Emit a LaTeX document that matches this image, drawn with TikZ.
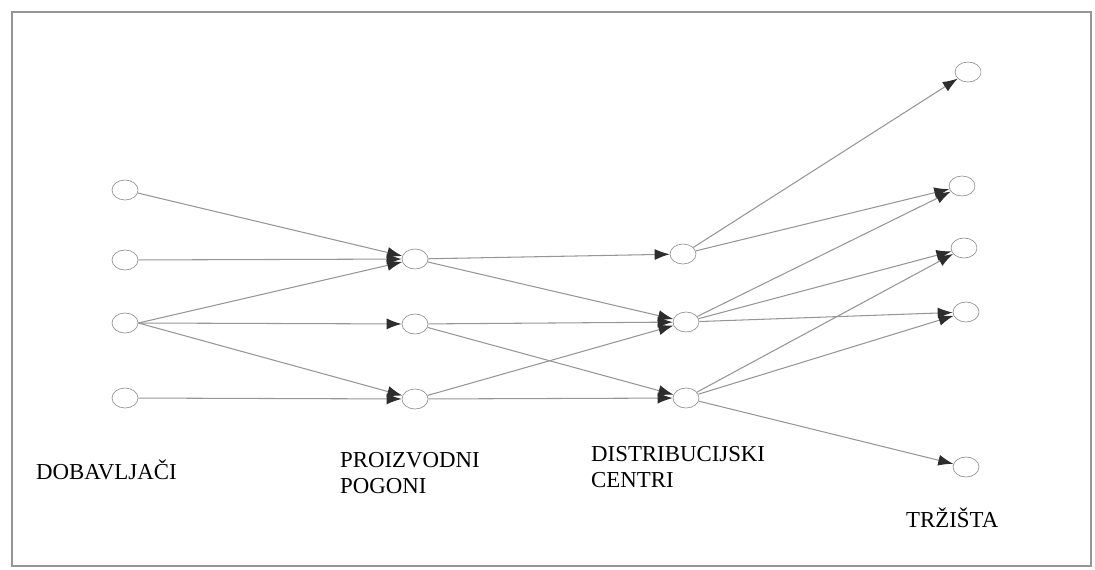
\documentclass[tikz,border=0pt]{standalone}
\usepackage{fontspec}
\setmainfont{Liberation Serif}
\usetikzlibrary{arrows.meta}
\usetikzlibrary{shapes.geometric}
\definecolor{linegray}{RGB}{150,150,150}
\definecolor{tipgray}{RGB}{45,45,45}

\begin{document}
\begin{tikzpicture}[x=0.02cm,y=-0.02cm,
  place/.style={draw=linegray,ellipse,minimum width=0.52cm,minimum height=0.4cm,inner sep=0pt},
  flow/.style={draw=linegray,line width=0.6pt,-{Latex[length=3mm,width=2.2mm,color=tipgray]}},
  lbl/.style={font=\fontsize{13}{15}\selectfont,align=left,anchor=west}]
\useasboundingbox (0,0) rectangle (1095,569);
\draw[linegray,line width=0.8pt] (12,12) rectangle (1091,566);

%suppliers
\node[place] (s1) at (125,190) {};
\node[place] (s2) at (125,260) {};
\node[place] (s3) at (125,323) {};
\node[place] (s4) at (125,398) {};

%plants
\node[place] (p1) at (415,259) {};
\node[place] (p2) at (415,324) {};
\node[place] (p3) at (415,399) {};

%distribution centres
\node[place] (d1) at (683,254) {};
\node[place] (d2) at (686,322) {};
\node[place] (d3) at (686,398) {};

%markets
\node[place] (m1) at (968,72) {};
\node[place] (m2) at (962,186) {};
\node[place] (m3) at (964,248) {};
\node[place] (m4) at (966,312) {};
\node[place] (m5) at (966,467) {};

%flows
\draw[flow] (s1) -- (p1);
\draw[flow] (s2) -- (p1);
\draw[flow] (s3.east) -- (p1);
\draw[flow] (s3.east) -- (p2);
\draw[flow] (s3.east) -- (p3);
\draw[flow] (s4) -- (p3);

\draw[flow] (p1) -- (d1);
\draw[flow] (p1) -- (d2);
\draw[flow] (p2) -- (d2);
\draw[flow] (p2) -- (d3);
\draw[flow] (p3) -- (d2);
\draw[flow] (p3) -- (d3);

\draw[flow] (d1) -- (m1);
\draw[flow] (d1) -- (m2);
\draw[flow] (d2) -- (m2);
\draw[flow] (d2) -- (m3);
\draw[flow] (d2) -- (m4);
\draw[flow] (d3) -- (m3);
\draw[flow] (d3) -- (m4);
\draw[flow] (d3) -- (m5);

%labels
\node[lbl] (ldob) at (30,470) {DOBAVLJAČI};
\node[lbl] (lpro) at (334,473) {PROIZVODNI\\POGONI};
\node[lbl] (ldis) at (585,467) {DISTRIBUCIJSKI\\CENTRI};
\node[lbl] (ltrz) at (900,518) {TRŽIŠTA};
\end{tikzpicture}
\end{document}
